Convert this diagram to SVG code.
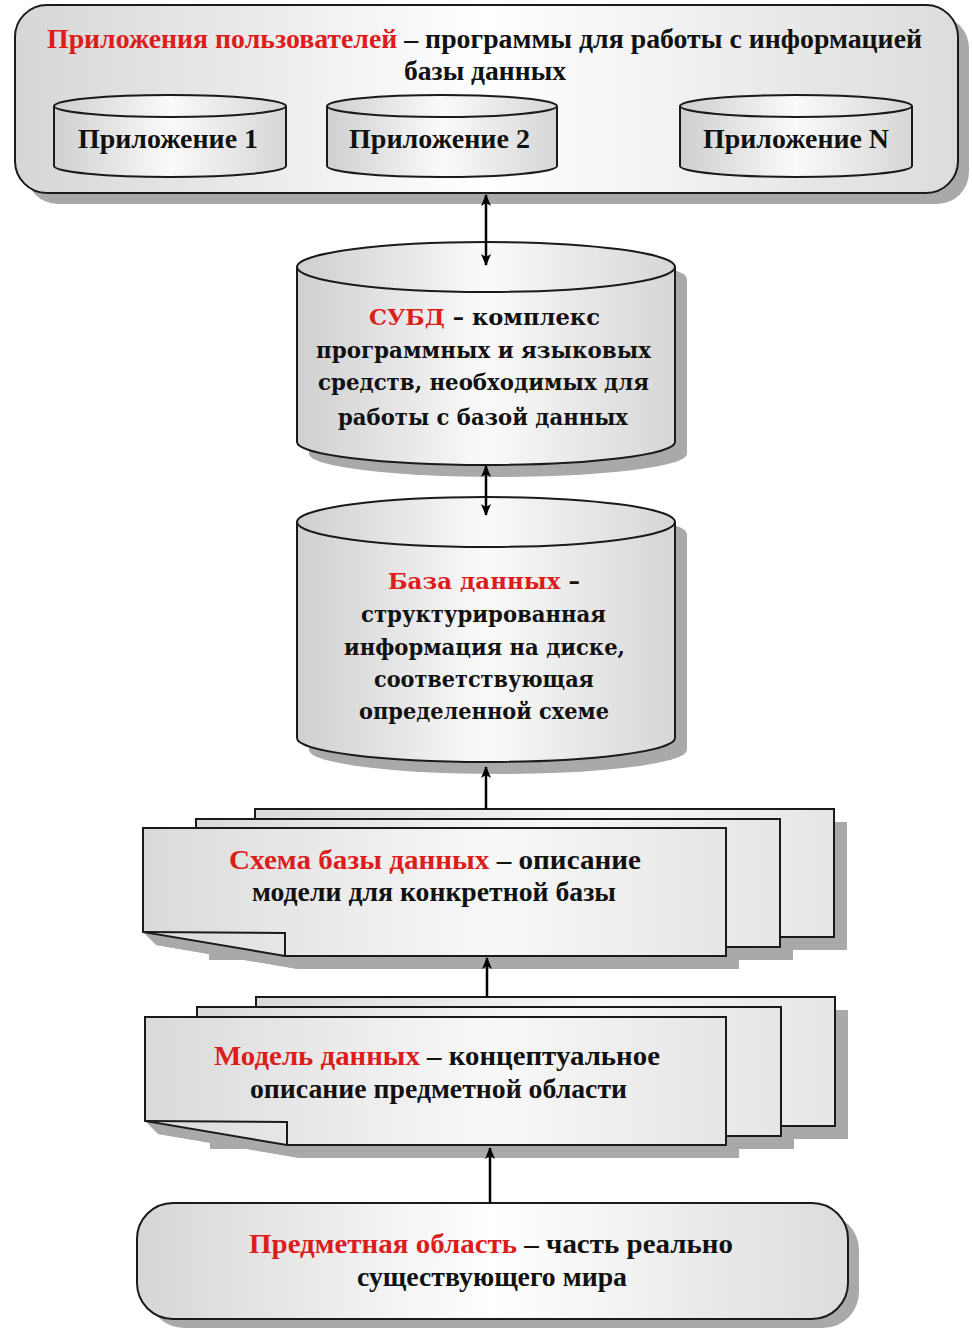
<svg xmlns="http://www.w3.org/2000/svg" width="972" height="1330" viewBox="0 0 972 1330">
<style>
.outline{stroke:#1a1a1a;stroke-width:2;}
.shadow{fill:#a9a9a9;}
.cond{font-family:"Liberation Serif","Times New Roman",serif;font-weight:bold;font-size:28px;fill:#111;}
.wide{font-family:"DejaVu Serif","Liberation Serif",serif;font-weight:bold;font-size:23px;fill:#111;}
.red{fill:#dd1c1c;}
.conn{stroke:#000;stroke-width:2.5;fill:none;}
</style>
<defs>
<linearGradient id="gBox" x1="0" y1="0" x2="1" y2="0">
<stop offset="0" stop-color="#d6d6d6"/>
<stop offset="0.5" stop-color="#ffffff"/>
<stop offset="1" stop-color="#dcdcdc"/>
</linearGradient>
<linearGradient id="gCyl" x1="0" y1="0" x2="1" y2="0">
<stop offset="0" stop-color="#cfcfcf"/>
<stop offset="0.5" stop-color="#fafafa"/>
<stop offset="1" stop-color="#d6d6d6"/>
</linearGradient>
<linearGradient id="gPage" x1="0" y1="0" x2="1" y2="0">
<stop offset="0" stop-color="#dadada"/>
<stop offset="0.6" stop-color="#f8f8f8"/>
<stop offset="1" stop-color="#e6e6e6"/>
</linearGradient>
<marker id="ah" viewBox="0 0 12 12" refX="11" refY="6" markerWidth="12" markerHeight="12" markerUnits="userSpaceOnUse" orient="auto-start-reverse">
<path d="M0,1 L12,6 L0,11 L3,6 Z" fill="#000"/>
</marker>
</defs>

<g id="apps">
<rect class="shadow" x="26" y="16" width="943" height="188" rx="32"/>
<rect class="outline" x="15" y="5" width="943" height="188" rx="32" fill="url(#gBox)"/>
<text class="cond" x="47" y="48" textLength="875" lengthAdjust="spacingAndGlyphs"><tspan class="red">Приложения пользователей</tspan> – программы для работы с информацией</text>
<text class="cond" x="404" y="80" textLength="162" lengthAdjust="spacingAndGlyphs">базы данных</text>
<g id="app1">
<path class="outline" d="M54,106 A116,11 0 0 1 286,106 V166 A116,11 0 0 1 54,166 Z" fill="url(#gCyl)"/>
<path class="outline" d="M54,106 A116,11 0 0 0 286,106" fill="none"/>
<text class="cond" x="78" y="148" textLength="180" lengthAdjust="spacingAndGlyphs">Приложение 1</text>
</g>
<g id="app2">
<path class="outline" d="M327,106 A115,11 0 0 1 557,106 V166 A115,11 0 0 1 327,166 Z" fill="url(#gCyl)"/>
<path class="outline" d="M327,106 A115,11 0 0 0 557,106" fill="none"/>
<text class="cond" x="349" y="148" textLength="181" lengthAdjust="spacingAndGlyphs">Приложение 2</text>
</g>
<g id="appN">
<path class="outline" d="M680,106 A116,11 0 0 1 912,106 V166 A116,11 0 0 1 680,166 Z" fill="url(#gCyl)"/>
<path class="outline" d="M680,106 A116,11 0 0 0 912,106" fill="none"/>
<text class="cond" x="703" y="148" textLength="186" lengthAdjust="spacingAndGlyphs">Приложение N</text>
</g>
</g>

<g id="dbms">
<path class="shadow" d="M309,279 A189,25 0 0 1 687,279 V454 A189,23 0 0 1 309,454 Z"/>
<path class="outline" d="M297,267 A189,25 0 0 1 675,267 V442 A189,23 0 0 1 297,442 Z" fill="url(#gCyl)"/>
<path class="outline" d="M297,267 A189,25 0 0 0 675,267" fill="none"/>
<text class="wide" x="369" y="325" textLength="231" lengthAdjust="spacingAndGlyphs"><tspan class="red">СУБД</tspan> – комплекс</text>
<text class="wide" x="316" y="358" textLength="335" lengthAdjust="spacingAndGlyphs">программных и языковых</text>
<text class="wide" x="318" y="390" textLength="331" lengthAdjust="spacingAndGlyphs">средств, необходимых для</text>
<text class="wide" x="338" y="425" textLength="290" lengthAdjust="spacingAndGlyphs">работы с базой данных</text>
</g>

<g id="db">
<path class="shadow" d="M309,534 A189,25 0 0 1 687,534 V750 A189,24 0 0 1 309,750 Z"/>
<path class="outline" d="M297,522 A189,25 0 0 1 675,522 V738 A189,24 0 0 1 297,738 Z" fill="url(#gCyl)"/>
<path class="outline" d="M297,522 A189,25 0 0 0 675,522" fill="none"/>
<text class="wide" x="388" y="589" textLength="192" lengthAdjust="spacingAndGlyphs"><tspan class="red">База данных</tspan> –</text>
<text class="wide" x="361" y="622" textLength="245" lengthAdjust="spacingAndGlyphs">структурированная</text>
<text class="wide" x="344" y="655" textLength="281" lengthAdjust="spacingAndGlyphs">информация на диске,</text>
<text class="wide" x="374" y="687" textLength="220" lengthAdjust="spacingAndGlyphs">соответствующая</text>
<text class="wide" x="359" y="719" textLength="250" lengthAdjust="spacingAndGlyphs">определенной схеме</text>
</g>

<g id="schema">
<rect class="shadow" x="268" y="822" width="579" height="128"/>
<rect class="shadow" x="209" y="832" width="584" height="128"/>
<path class="shadow" d="M156,841 H739 V969 H298 L156,945 Z"/>
<rect class="outline" x="255" y="809" width="579" height="128" fill="url(#gPage)"/>
<rect class="outline" x="196" y="819" width="584" height="128" fill="url(#gPage)"/>
<path class="shadow" d="M143,932 L285,956 L298,969 L156,945 Z"/>
<path class="outline" d="M143,828 H726 V956 H285 L143,932 Z" fill="url(#gPage)"/>
<path class="outline" d="M143,932 L285,933 V956" fill="none"/>
<text class="cond" x="229" y="869" textLength="412" lengthAdjust="spacingAndGlyphs"><tspan class="red">Схема базы данных</tspan> – описание</text>
<text class="cond" x="252" y="901" textLength="364" lengthAdjust="spacingAndGlyphs">модели для конкретной базы</text>
</g>

<g id="model">
<rect class="shadow" x="269" y="1010" width="579" height="129"/>
<rect class="shadow" x="210" y="1020" width="584" height="129"/>
<path class="shadow" d="M158,1030 H739 V1158 H300 L158,1134 Z"/>
<rect class="outline" x="256" y="997" width="579" height="129" fill="url(#gPage)"/>
<rect class="outline" x="197" y="1007" width="584" height="129" fill="url(#gPage)"/>
<path class="shadow" d="M145,1121 L287,1145 L300,1158 L158,1134 Z"/>
<path class="outline" d="M145,1017 H726 V1145 H287 L145,1121 Z" fill="url(#gPage)"/>
<path class="outline" d="M145,1121 L287,1122 V1145" fill="none"/>
<text class="cond" x="214" y="1065" textLength="446" lengthAdjust="spacingAndGlyphs"><tspan class="red">Модель данных</tspan> – концептуальное</text>
<text class="cond" x="250" y="1098" textLength="377" lengthAdjust="spacingAndGlyphs">описание предметной области</text>
</g>

<g id="domain">
<rect class="shadow" x="148" y="1214" width="711" height="114" rx="36"/>
<rect class="outline" x="137" y="1203" width="711" height="116" rx="36" fill="url(#gBox)"/>
<text class="cond" x="249" y="1253" textLength="484" lengthAdjust="spacingAndGlyphs"><tspan class="red">Предметная область</tspan> – часть реально</text>
<text class="cond" x="357" y="1286" textLength="270" lengthAdjust="spacingAndGlyphs">существующего мира</text>
</g>

<g id="connectors">
<line class="conn" x1="486" y1="195" x2="486" y2="265" marker-start="url(#ah)" marker-end="url(#ah)"/>
<line class="conn" x1="486" y1="466" x2="486" y2="515" marker-start="url(#ah)" marker-end="url(#ah)"/>
<line class="conn" x1="486" y1="809" x2="486" y2="767" marker-end="url(#ah)"/>
<line class="conn" x1="487" y1="997" x2="487" y2="958" marker-end="url(#ah)"/>
<line class="conn" x1="490" y1="1203" x2="490" y2="1148" marker-end="url(#ah)"/>
</g>
</svg>
